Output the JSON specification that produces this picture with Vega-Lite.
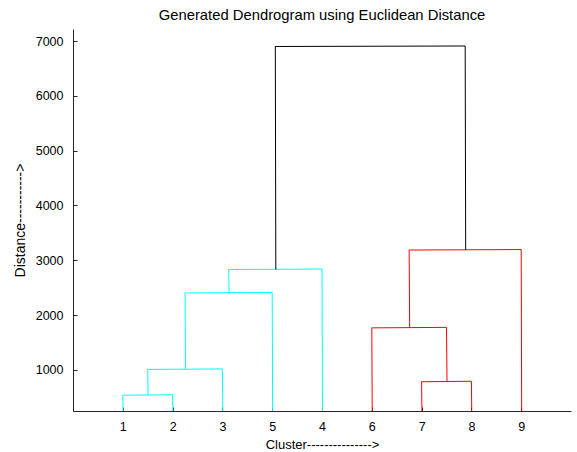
{
  "$schema": "https://vega.github.io/schema/vega-lite/v6.json",
  "width": 498,
  "height": 382,
  "autosize": "none",
  "padding": {"left": 73, "top": 29, "right": 6, "bottom": 41},
  "background": "white",
  "title": {
    "text": "Generated Dendrogram using Euclidean Distance",
    "font": "Liberation Sans",
    "fontSize": 14.8,
    "fontWeight": "normal",
    "color": "#000000",
    "anchor": "middle",
    "baseline": "alphabetic",
    "offset": 11,
    "dy": 17
  },
  "data": {
    "values": [
      {"x": 1, "x2": 1, "y": 0, "y2": 547, "c": "cyan"},
      {"x": 2, "x2": 2, "y": 0, "y2": 547, "c": "cyan"},
      {"x": 1, "x2": 2, "y": 547, "y2": 547, "c": "cyan"},
      {"x": 1.5, "x2": 1.5, "y": 547, "y2": 1018, "c": "cyan"},
      {"x": 3, "x2": 3, "y": 0, "y2": 1018, "c": "cyan"},
      {"x": 1.5, "x2": 3, "y": 1018, "y2": 1018, "c": "cyan"},
      {"x": 2.25, "x2": 2.25, "y": 1018, "y2": 2413, "c": "cyan"},
      {"x": 4, "x2": 4, "y": 0, "y2": 2413, "c": "cyan"},
      {"x": 2.25, "x2": 4, "y": 2413, "y2": 2413, "c": "cyan"},
      {"x": 3.125, "x2": 3.125, "y": 2413, "y2": 2840, "c": "cyan"},
      {"x": 5, "x2": 5, "y": 0, "y2": 2840, "c": "cyan"},
      {"x": 3.125, "x2": 5, "y": 2840, "y2": 2840, "c": "cyan"},
      {"x": 7, "x2": 7, "y": 0, "y2": 793, "c": "red"},
      {"x": 8, "x2": 8, "y": 0, "y2": 793, "c": "red"},
      {"x": 7, "x2": 8, "y": 793, "y2": 793, "c": "red"},
      {"x": 6, "x2": 6, "y": 0, "y2": 1776, "c": "red"},
      {"x": 7.5, "x2": 7.5, "y": 793, "y2": 1776, "c": "red"},
      {"x": 6, "x2": 7.5, "y": 1776, "y2": 1776, "c": "red"},
      {"x": 6.75, "x2": 6.75, "y": 1776, "y2": 3196, "c": "red"},
      {"x": 9, "x2": 9, "y": 0, "y2": 3196, "c": "red"},
      {"x": 6.75, "x2": 9, "y": 3196, "y2": 3196, "c": "red"},
      {"x": 4.0625, "x2": 4.0625, "y": 2840, "y2": 6910, "c": "black"},
      {"x": 7.875, "x2": 7.875, "y": 3196, "y2": 6910, "c": "black"},
      {"x": 4.0625, "x2": 7.875, "y": 6910, "y2": 6910, "c": "black"}
    ]
  },
  "mark": {"type": "rule", "clip": true, "strokeWidth": 1, "xOffset": 0.5, "yOffset": 0.5},
  "encoding": {
    "x": {
      "field": "x",
      "type": "quantitative",
      "scale": {"domain": [0, 10], "nice": false, "zero": false},
      "axis": {
        "values": [1, 2, 3, 4, 5, 6, 7, 8, 9],
        "labelExpr": "datum.value == 4 ? '5' : datum.value == 5 ? '4' : datum.label",
        "grid": false,
        "title": "Cluster--------------->",
        "titleFont": "Liberation Sans",
        "titleFontSize": 13,
        "titleFontWeight": "normal",
        "titleColor": "#000000",
        "titlePadding": 6,
        "labelFont": "Liberation Sans",
        "labelFontSize": 12.5,
        "labelColor": "#000000",
        "labelPadding": 13,
        "tickSize": -4,
        "tickColor": "#262626",
        "domainColor": "#262626"
      }
    },
    "x2": {"field": "x2"},
    "y": {
      "field": "y",
      "type": "quantitative",
      "scale": {"domain": [250, 7220], "nice": false, "zero": false},
      "axis": {
        "values": [1000, 2000, 3000, 4000, 5000, 6000, 7000],
        "format": "d",
        "grid": false,
        "title": "Distance----------->",
        "titleFont": "Liberation Sans",
        "titleFontSize": 14,
        "titleFontWeight": "normal",
        "titleColor": "#000000",
        "titlePadding": 8,
        "labelFont": "Liberation Sans",
        "labelFontSize": 12.5,
        "labelColor": "#000000",
        "labelPadding": 14,
        "tickSize": -4,
        "tickColor": "#262626",
        "domainColor": "#262626"
      }
    },
    "y2": {"field": "y2"},
    "color": {
      "field": "c",
      "type": "nominal",
      "scale": {"domain": ["cyan", "red", "black"], "range": ["#00ffff", "#ff0000", "#000000"]},
      "legend": null
    }
  },
  "config": {"view": {"stroke": null}}
}
